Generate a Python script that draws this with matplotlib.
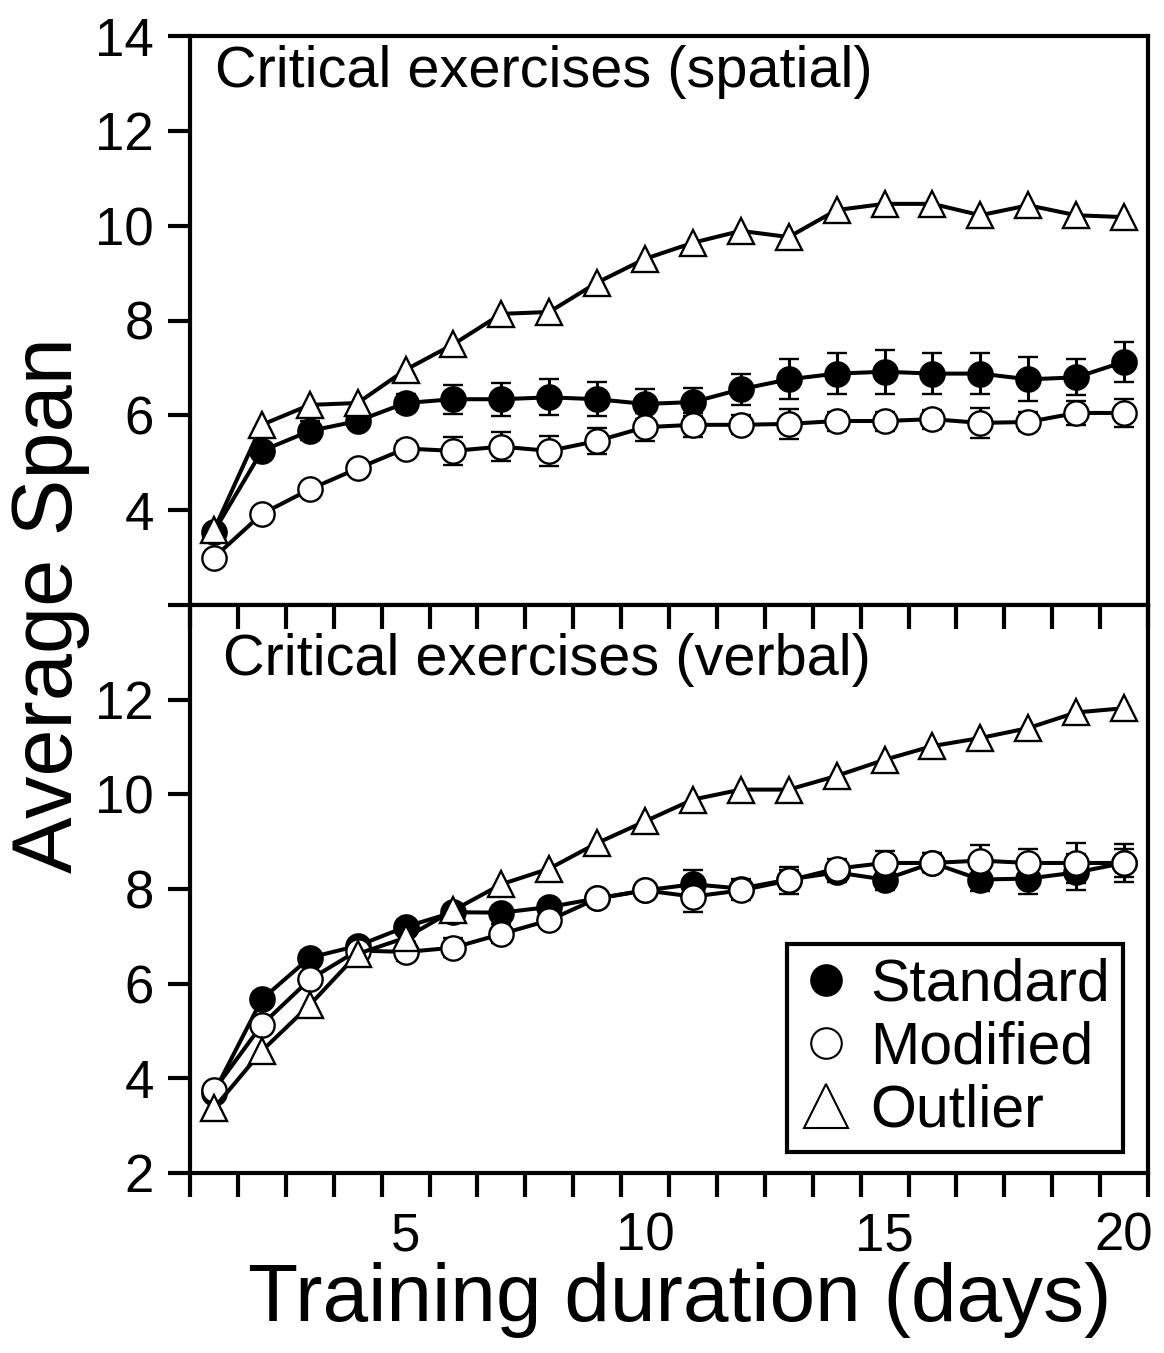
import matplotlib
matplotlib.use("Agg")
import matplotlib.pyplot as plt
from matplotlib.lines import Line2D
import numpy as np

plt.rcParams['font.family'] = ['Liberation Sans', 'DejaVu Sans']

days = list(range(1, 21))

# Top panel: spatial
sp_standard = [3.55, 5.25, 5.67, 5.88, 6.26, 6.34, 6.34, 6.38, 6.34, 6.24, 6.28, 6.55, 6.76, 6.88, 6.92, 6.88, 6.88, 6.76, 6.80, 7.13]
sp_standard_err = [0.10, 0.12, 0.20, 0.15, 0.20, 0.31, 0.35, 0.38, 0.36, 0.31, 0.29, 0.33, 0.42, 0.44, 0.46, 0.44, 0.44, 0.46, 0.38, 0.42]
sp_modified = [3.00, 3.92, 4.44, 4.88, 5.30, 5.25, 5.34, 5.25, 5.46, 5.75, 5.80, 5.80, 5.82, 5.88, 5.88, 5.92, 5.84, 5.86, 6.05, 6.05]
sp_modified_err = [0.10, 0.12, 0.12, 0.12, 0.15, 0.29, 0.31, 0.31, 0.27, 0.29, 0.25, 0.20, 0.31, 0.20, 0.20, 0.20, 0.31, 0.20, 0.25, 0.29]
sp_outlier = [3.58, 5.80, 6.22, 6.26, 6.96, 7.50, 8.14, 8.18, 8.80, 9.30, 9.64, 9.89, 9.76, 10.33, 10.46, 10.46, 10.22, 10.43, 10.22, 10.18]

# Bottom panel: verbal
vb_standard = [3.70, 5.67, 6.55, 6.80, 7.20, 7.51, 7.50, 7.62, 7.80, 7.97, 8.10, 8.01, 8.20, 8.35, 8.20, 8.55, 8.20, 8.22, 8.35, 8.55]
vb_standard_err = [0.10, 0.15, 0.15, 0.12, 0.15, 0.15, 0.15, 0.15, 0.15, 0.15, 0.30, 0.20, 0.20, 0.20, 0.22, 0.20, 0.25, 0.33, 0.38, 0.30]
vb_modified = [3.75, 5.13, 6.09, 6.70, 6.67, 6.76, 7.05, 7.34, 7.80, 7.97, 7.84, 7.97, 8.18, 8.43, 8.55, 8.55, 8.60, 8.55, 8.55, 8.55]
vb_modified_err = [0.10, 0.12, 0.15, 0.15, 0.20, 0.20, 0.20, 0.15, 0.15, 0.15, 0.33, 0.20, 0.29, 0.20, 0.25, 0.20, 0.33, 0.29, 0.42, 0.40]
vb_outlier = [3.37, 4.58, 5.55, 6.63, 6.97, 7.55, 8.10, 8.43, 8.97, 9.43, 9.89, 10.10, 10.10, 10.39, 10.73, 11.02, 11.19, 11.40, 11.73, 11.82]

titles = ["Critical exercises (spatial)", "Critical exercises (verbal)"]
legend_labels = ["Standard", "Modified", "Outlier"]
x_tick_labels = [5, 10, 15, 20]

W, H = 1164, 1353
fig = plt.figure(figsize=(W / 100, H / 100), dpi=100)

L, R = 190 / W, 1148 / W
y_top, y_mid, y_bot = 1 - 36 / H, 1 - 605 / H, 1 - 1173 / H
ax1 = fig.add_axes([L, y_mid, R - L, y_top - y_mid])
ax2 = fig.add_axes([L, y_bot, R - L, y_mid - y_bot], sharex=ax1)

lw = 2.9
ms = 17.5
mew = 1.7

def draw(ax, std, std_err, mod, mod_err, out):
    ax.errorbar(days, std, yerr=std_err, fmt='-o', color='black', lw=lw, ms=ms,
                mfc='black', mec='black', mew=mew, ecolor='black', elinewidth=2.2,
                capsize=7, capthick=2.2, zorder=3)
    ax.errorbar(days, mod, yerr=mod_err, fmt='-o', color='black', lw=lw, ms=ms,
                mfc='white', mec='black', mew=mew, ecolor='black', elinewidth=2.2,
                capsize=7, capthick=2.2, zorder=4)
    ax.plot(days, out, '-^', color='black', lw=lw, ms=ms + 1, mfc='white', mec='black',
            mew=mew, zorder=5)

draw(ax1, sp_standard, sp_standard_err, sp_modified, sp_modified_err, sp_outlier)
draw(ax2, vb_standard, vb_standard_err, vb_modified, vb_modified_err, vb_outlier)

for ax in (ax1, ax2):
    ax.set_ylim(2, 14)
    ax.set_xlim(0.5, 20.5)
    for s in ax.spines.values():
        s.set_linewidth(3.0)

ax1.set_yticks([2, 4, 6, 8, 10, 12, 14])
ax1.set_yticklabels(['', '4', '6', '8', '10', '12', '14'])
ax2.set_yticks([2, 4, 6, 8, 10, 12])

for ax in (ax1, ax2):
    ax.tick_params(axis='y', which='major', direction='out', length=16, width=3,
                   labelsize=38, pad=10)

ax2.set_xticks(x_tick_labels)
ax2.set_xticks(np.arange(0.5, 21, 1.0), minor=True)
ax2.tick_params(axis='x', which='major', length=0, labelsize=38, pad=28)
ax2.tick_params(axis='x', which='minor', direction='out', length=17, width=3,
                top=True, bottom=True)
for t in ax2.xaxis.get_minor_ticks():
    t.tick2line.set_marker(3)  # top ticks point inward (down)
ax1.tick_params(axis='x', which='both', bottom=False, top=False, labelbottom=False)

ax1.text(0.026, 0.985, titles[0], transform=ax1.transAxes, ha='left', va='top', fontsize=41.5)
ax2.text(0.034, 0.95, titles[1], transform=ax2.transAxes, ha='left', va='top', fontsize=41.5)

handles = [
    Line2D([], [], marker='o', ls='none', ms=22, mfc='black', mec='black', mew=1.5),
    Line2D([], [], marker='o', ls='none', ms=22, mfc='white', mec='black', mew=1.5),
    Line2D([], [], marker='^', ls='none', ms=32, mfc='white', mec='black', mew=1.5),
]
leg = ax2.legend(handles, legend_labels, loc='lower right', bbox_to_anchor=(0.974, 0.037),
                 borderaxespad=0, fontsize=42.5, frameon=True, fancybox=False,
                 edgecolor='black', handlelength=0.9, handletextpad=0.3,
                 labelspacing=0.14, borderpad=0.22)
leg.get_frame().set_linewidth(3)
leg.get_frame().set_alpha(1)

fig.text(50 / W, 1 - 605 / H, "Average Span", rotation=90, ha='center', va='center', fontsize=61)
fig.text(680 / W, 1 - 1300 / H, "Training duration (days)", ha='center', va='center', fontsize=59)

fig.savefig("out.png", dpi=100)
